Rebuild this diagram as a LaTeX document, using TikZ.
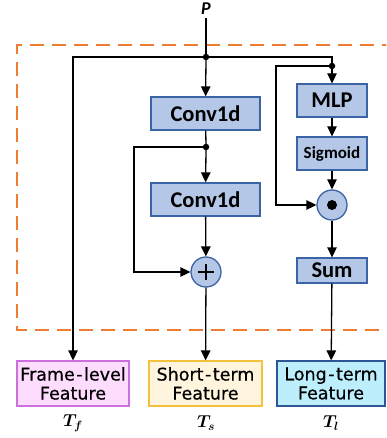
\documentclass[tikz,border=0pt]{standalone}
\usepackage{fontspec}
\usepackage{amsmath,bm}
\setmainfont{Carlito}
\newfontfamily\featfont[FakeBold=0.6]{DejaVu Sans}
\usetikzlibrary{arrows.meta}

\definecolor{blockfill}{HTML}{B4C7E7}
\definecolor{blockline}{HTML}{3B64A6}
\definecolor{framefill}{HTML}{FDDCFD}
\definecolor{frameline}{HTML}{CC70E0}
\definecolor{shortfill}{HTML}{FFF5DE}
\definecolor{shortline}{HTML}{F2C23C}
\definecolor{longfill}{HTML}{BDEEFC}
\definecolor{longline}{HTML}{2F5597}
\definecolor{dashorange}{HTML}{ED7D31}

\newcommand{\hyph}{\kern1.5pt-\kern1.5pt}

\tikzset{
  block/.style={draw=blockline, fill=blockfill, line width=1.3pt, inner sep=0pt,
    font=\bfseries\fontsize{22.5}{24}\selectfont, minimum height=33pt},
  opnode/.style={circle, draw=blockline, fill=blockfill, line width=1.3pt,
    inner sep=0pt, minimum size=30pt},
  feat/.style={line width=1.3pt, inner sep=0pt, minimum height=45pt, align=center,
    font=\featfont\fontsize{17.5}{19}\selectfont},
  link/.style={line width=1.3pt},
  arr/.style={link, -{Triangle[length=10pt,width=9.5pt]}},
  jdot/.style={circle, fill=black, inner sep=0pt, minimum size=6.5pt},
  tlabel/.style={font=\fontsize{17}{19}\selectfont}
}

\begin{document}
\begin{tikzpicture}[x=1pt, y=-1pt]
  \useasboundingbox (0,0) rectangle (386,438);
  \clip (0,0) rectangle (386,438);

  % dashed module frame
  \draw[dashorange, line width=1.5pt, dash pattern=on 14pt off 8pt]
    (396,45) -- (17,45) -- (17,330) -- (396,330);

  % input
  \node[font=\bfseries\itshape\fontsize{18}{20}\selectfont] (P) at (206,9) {P};

  % short-term branch
  \node[block, minimum width=109pt] (c1) at (205.5,113.5) {Conv1d};
  \node[block, minimum width=109pt] (c2) at (205.5,199.5) {Conv1d};
  \node[opnode] (plus) at (206,272) {};
  \draw[line width=1.8pt] ([xshift=-8pt]plus.center) -- ([xshift=8pt]plus.center)
    ([yshift=-8pt]plus.center) -- ([yshift=8pt]plus.center);

  % long-term branch
  \node[block, minimum width=70pt] (mlp) at (332,100.5) {MLP};
  \node[block, minimum width=70pt, font=\bfseries\fontsize{17}{19}\selectfont] (sig) at (332,153.5) {Sigmoid};
  \node[opnode] (dot) at (332,205) {};
  \fill (dot.center) circle (5pt);
  \node[block, minimum width=70pt, minimum height=25pt] (sum) at (332,270.5) {Sum};

  % outputs
  \node[feat, draw=frameline, fill=framefill, minimum width=112pt] (ff) at (73,383.5) {Frame\hyph level\\Feature};
  \node[feat, draw=shortline, fill=shortfill, minimum width=113pt] (st) at (205.5,383.5) {Short\hyph term\\Feature};
  \node[feat, draw=longline, fill=longfill, minimum width=108pt] (lt) at (331,383.5) {Long\hyph term\\Feature};
  \node[tlabel] (tf) at (73,423) {$\bm{T_f}$};
  \node[tlabel] (ts) at (206,423) {$\bm{T_s}$};
  \node[tlabel] (tl) at (331,423) {$\bm{T_l}$};

  % junctions
  \coordinate (j1) at (206,57);
  \coordinate (j2) at (332,66);
  \coordinate (j3) at (206,147);
  \coordinate (skipS) at (134,147);
  \coordinate (skipL) at (276,66);

  % connectors
  \draw[link] (P) -- (j1);
  \draw[arr] (j1) -- (c1);
  \draw[arr] (j1) -| (ff.north);
  \draw[link] (j1) -| (j2);
  \draw[arr] (j2) -- (mlp);
  \draw[arr] (j2) -- (skipL) |- (dot.west);
  \draw[link] (c1) -- (j3);
  \draw[arr] (j3) -- (c2);
  \draw[arr] (j3) -- (skipS) |- (plus.west);
  \draw[arr] (c2) -- (plus);
  \draw[arr] (plus) -- (st);
  \draw[arr] (mlp) -- (sig);
  \draw[arr] (sig) -- (dot);
  \draw[arr] (dot) -- (sum);
  \draw[arr] (sum) -- (lt);

  \node[jdot] at (j1) {};
  \node[jdot] at (j2) {};
  \node[jdot] at (j3) {};
\end{tikzpicture}
\end{document}
